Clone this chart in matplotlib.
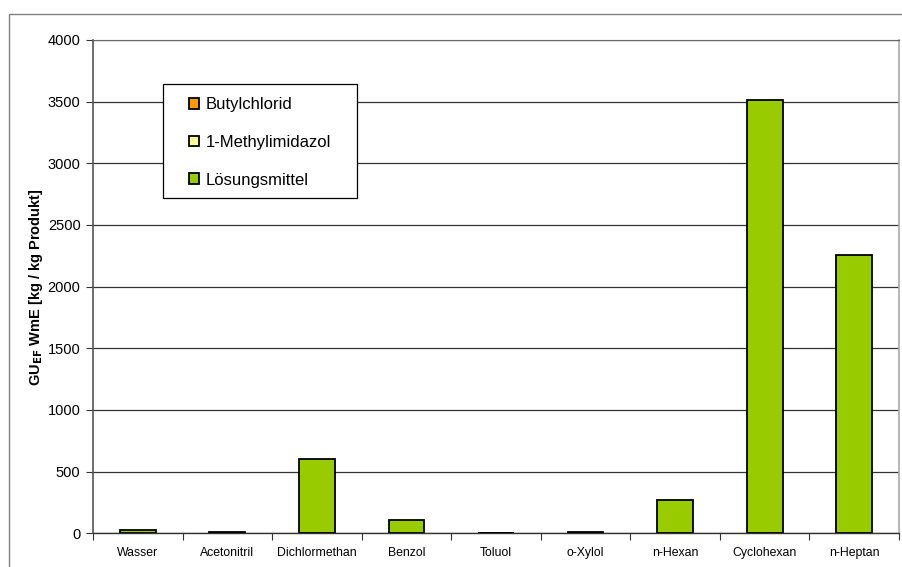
import numpy as np
import matplotlib.pyplot as plt
from matplotlib.patches import Rectangle

plt.rcParams['font.family'] = ['Liberation Sans', 'DejaVu Sans']

# Solvents and the contributions per kg product
solvents = ['Wasser', 'Acetonitril', 'Dichlormethan', 'Benzol', 'Toluol',
            'o-Xylol', 'n-Hexan', 'Cyclohexan', 'n-Heptan']
butylchlorid = [1, 1, 1, 1, 1, 1, 1, 1, 1]
methylimidazol = [1, 1, 1, 1, 1, 1, 1, 1, 1]
loesungsmittel = [27, 8, 598, 106, 3, 6, 265, 3508, 2252]

x = np.arange(len(solvents))
width = 0.4

fig = plt.figure(figsize=(9.03, 5.67), dpi=100)
ax = fig.add_axes([0.103, 0.0594, 0.8926, 0.8701])

# Outer frame around the whole chart
fig.patches.append(Rectangle((0.0105, -0.1), 1.2, 1.1 - 0.025, transform=fig.transFigure,
                             fill=False, edgecolor='#808080', linewidth=1.0))

bottom1 = np.array(butylchlorid)
bottom2 = bottom1 + np.array(methylimidazol)
ax.bar(x, butylchlorid, width, color='#FF9900', edgecolor='black', linewidth=1.3,
       label='Butylchlorid', zorder=3)
ax.bar(x, methylimidazol, width, bottom=bottom1, color='#FFFF99', edgecolor='black',
       linewidth=1.3, label='1-Methylimidazol', zorder=3)
ax.bar(x, loesungsmittel, width, bottom=bottom2, color='#99CC00', edgecolor='black',
       linewidth=1.3, label='Lösungsmittel', zorder=3)

ax.set_xlim(-0.5, len(solvents) - 0.5)
ax.set_ylim(0, 4000)
ax.set_yticks(np.arange(0, 4001, 500))
ax.tick_params(axis='y', labelsize=10.5, length=5, width=0.8, color='#333333', pad=4)
ax.yaxis.grid(True, color='#333333', linewidth=0.9, zorder=0)

ax.set_xticks(x)
ax.set_xticklabels(solvents, fontsize=8.8)
ax.tick_params(axis='x', length=0, pad=10)
ax.set_xticks(np.arange(-0.5, len(solvents)), minor=True)
ax.tick_params(axis='x', which='minor', length=5, width=0.8, color='#333333')

ax.spines['left'].set_color('#555555')
ax.spines['left'].set_linewidth(1.2)
ax.spines['bottom'].set_color('#333333')
ax.spines['bottom'].set_linewidth(1.0)
ax.spines['top'].set_color('#666666')
ax.spines['right'].set_color('#aaaaaa')
ax.spines['right'].set_linewidth(1.2)

ax.set_ylabel('GU$_{\\mathbf{EF}}$ WmE [kg / kg Produkt]', fontsize=10.5,
              fontweight='bold', labelpad=2)

# Legend entries without frame, box drawn separately
leg = ax.legend(loc='upper left', bbox_to_anchor=(0.1194, 0.884), fontsize=12,
                frameon=False, handlelength=0.6, handleheight=0.6, handletextpad=0.4,
                labelspacing=1.36, borderpad=0, borderaxespad=0)
leg.set_zorder(5)
ax.add_patch(Rectangle((0.0868, 0.6797), 0.2407, 0.2311, transform=ax.transAxes,
                       facecolor='white', edgecolor='black', linewidth=0.9, zorder=4))

fig.savefig('out.png', dpi=100)
